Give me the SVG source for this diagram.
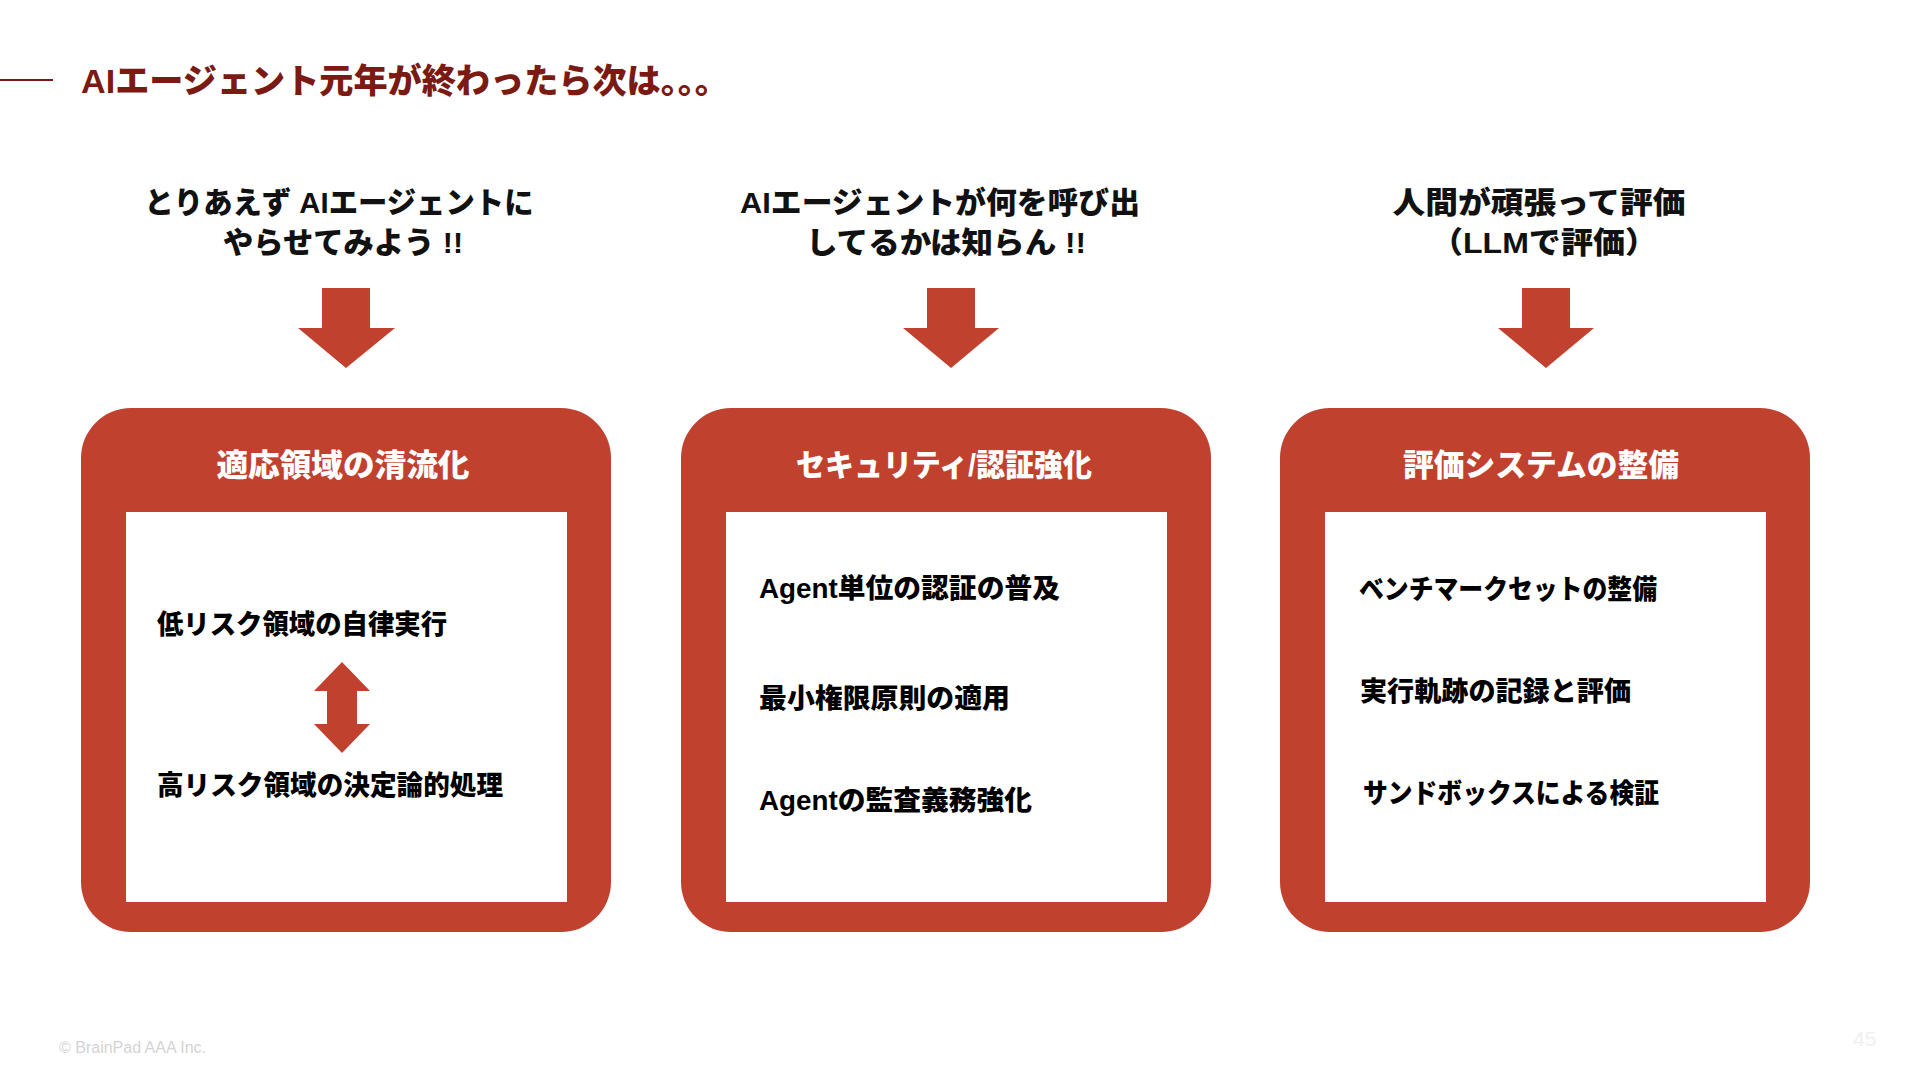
<svg xmlns="http://www.w3.org/2000/svg" width="1920" height="1080" viewBox="0 0 1920 1080">
<defs>
<style>
.jp{font-family:"Liberation Sans","Noto Sans CJK JP",sans-serif;font-weight:900}
.ttl{fill:#7B1A12;font-size:34px}
.head{fill:#111;font-size:30px;text-anchor:middle}
.hdr{fill:#fff;font-size:31px;text-anchor:middle}
.item{fill:#000;font-size:27px}
.frame{fill:#C1412F}
.inner{fill:#fff}
.arr{fill:#C1412F}
</style>
</defs>
<rect width="1920" height="1080" fill="#fff"/>
<g id="title">
<line x1="0" y1="80" x2="53" y2="80" stroke="#7B1A12" stroke-width="2"/>
<text class="jp ttl" x="81" y="93" textLength="648" lengthAdjust="spacingAndGlyphs">AIエージェント元年が終わったら次は。。。</text>
</g>
<g id="heading1">
<text class="jp head" x="339" y="213" textLength="389" lengthAdjust="spacingAndGlyphs">とりあえず AIエージェントに</text>
<text class="jp head" x="343" y="253" textLength="240" lengthAdjust="spacingAndGlyphs">やらせてみよう !!</text>
</g>
<g id="heading2">
<text class="jp head" x="940" y="213" textLength="400" lengthAdjust="spacingAndGlyphs">AIエージェントが何を呼び出</text>
<text class="jp head" x="946" y="253" textLength="280" lengthAdjust="spacingAndGlyphs">してるかは知らん !!</text>
</g>
<g id="heading3">
<text class="jp head" x="1539" y="213" textLength="293" lengthAdjust="spacingAndGlyphs">人間が頑張って評価</text>
<text class="jp head" x="1544" y="253" textLength="226" lengthAdjust="spacingAndGlyphs">（LLMで評価）</text>
</g>
<g id="box1">
<rect class="frame" x="81" y="408" width="530" height="524" rx="50"/>
<rect class="inner" x="126" y="512" width="441" height="390"/>
<text class="jp hdr" x="343" y="476" textLength="253" lengthAdjust="spacingAndGlyphs">適応領域の清流化</text>
<text class="jp item" x="157" y="634" textLength="290" lengthAdjust="spacingAndGlyphs">低リスク領域の自律実行</text>
<text class="jp item" x="157" y="795" textLength="346" lengthAdjust="spacingAndGlyphs">高リスク領域の決定論的処理</text>
</g>
<g id="box2">
<rect class="frame" x="681" y="408" width="530" height="524" rx="50"/>
<rect class="inner" x="726" y="512" width="441" height="390"/>
<text class="jp hdr" x="944" y="476" textLength="296" lengthAdjust="spacingAndGlyphs">セキュリティ/認証強化</text>
<text class="jp item" x="759" y="598" textLength="301" lengthAdjust="spacingAndGlyphs">Agent単位の認証の普及</text>
<text class="jp item" x="759" y="708" textLength="251" lengthAdjust="spacingAndGlyphs">最小権限原則の適用</text>
<text class="jp item" x="759" y="810" textLength="273" lengthAdjust="spacingAndGlyphs">Agentの監査義務強化</text>
</g>
<g id="box3">
<rect class="frame" x="1280" y="408" width="530" height="524" rx="50"/>
<rect class="inner" x="1325" y="512" width="441" height="390"/>
<text class="jp hdr" x="1541" y="476" textLength="276" lengthAdjust="spacingAndGlyphs">評価システムの整備</text>
<text class="jp item" x="1359" y="599" textLength="298" lengthAdjust="spacingAndGlyphs">ベンチマークセットの整備</text>
<text class="jp item" x="1360" y="701" textLength="271" lengthAdjust="spacingAndGlyphs">実行軌跡の記録と評価</text>
<text class="jp item" x="1363" y="803" textLength="296" lengthAdjust="spacingAndGlyphs">サンドボックスによる検証</text>
</g>
<g id="connectors">
<polygon class="arr" points="322,288 370,288 370,328 395,328 346,368 298,328 322,328"/>
<polygon class="arr" points="927,288 975,288 975,328 999,328 951,368 903,328 927,328"/>
<polygon class="arr" points="1522,288 1570,288 1570,328 1594,328 1546,368 1498,328 1522,328"/>
<polygon class="arr" points="342,662 370,691 357,691 357,724 370,724 342,753 314,724 327,724 327,691 314,691"/>
</g>
<g id="footer">
<text x="59" y="1053" font-family="Liberation Sans, sans-serif" font-size="16" fill="#d4d4d4">© BrainPad AAA Inc.</text>
<text x="1853" y="1046" font-family="Liberation Sans, sans-serif" font-size="21" fill="#f0f0f0">45</text>
</g>
</svg>
